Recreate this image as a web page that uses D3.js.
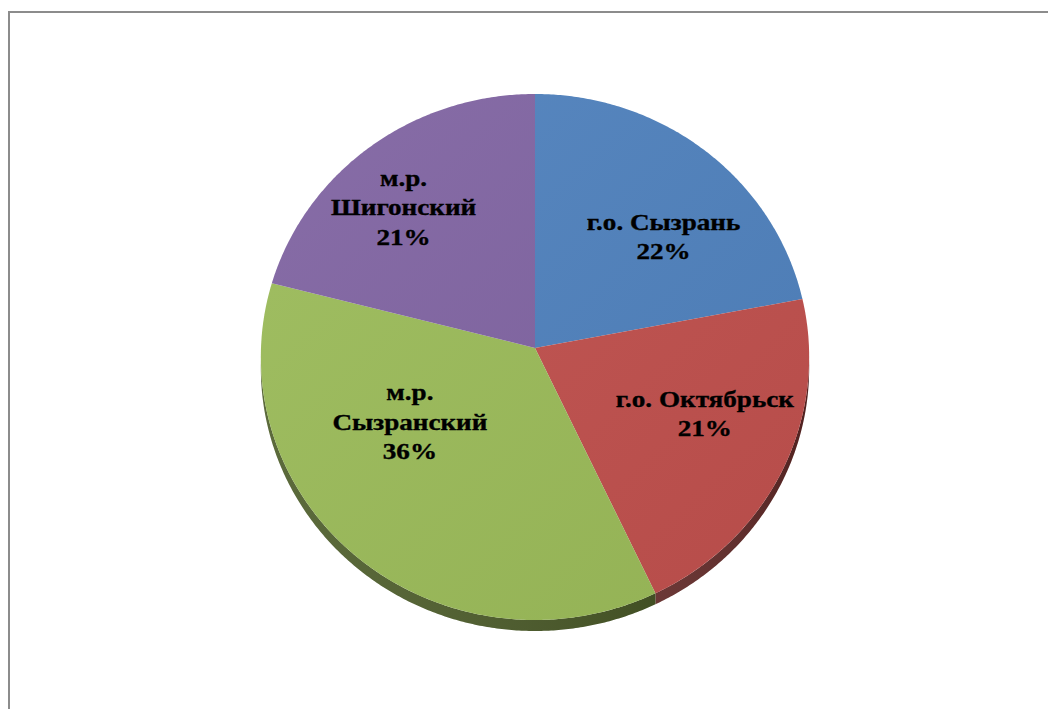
<!DOCTYPE html>
<html>
<head>
<meta charset="utf-8">
<script src="https://cdn.jsdelivr.net/npm/d3@7"></script>
<style>
  html, body { margin: 0; padding: 0; background: #fff; overflow: hidden; }
  svg { display: block; }
</style>
</head>
<body>
<div id="chart"></div>
<script>
// data
var categories = ["г.о. Сызрань", "г.о. Октябрьск", "м.р. Сызранский", "м.р. Шигонский"];
var shares = [22, 21, 36, 21];
var topColors = ["#4f81bd", "#c0504d", "#9bbb59", "#8064a2"];
var sideColors = ["#2c4a6e", "#5e2624", "#4d5d2a", "#45365a"];

var width = 1048, height = 709;

// tilted disc seen in perspective
var cx = 535, cy = 348, rx = 274, ry = 262.7, persp = 0.0342, depth = 11;
// labels sit a bit off the plain centroid, like the original's fitted boxes
var labelRadius = 0.62;
var labelNudge = [[22, 12], [17, -9], [-15, -54], [-29, -14]];
var fontSize = 23, stretch = 1.18, lineHeight = 29.5, wrapWidth = 190;

function project(a, r) {
  var u = r * Math.sin(a), v = r * Math.cos(a);
  var k = 1 + persp * v;
  return [cx + rx * u / k, cy - ry * v / k];
}

function arcPoints(a0, a1, r) {
  var n = Math.max(2, Math.ceil(Math.abs(a1 - a0) / (Math.PI / 360)));
  return d3.range(n + 1).map(function(i) { return project(a0 + (a1 - a0) * i / n, r); });
}

var svg = d3.select("#chart").append("svg")
  .attr("width", width)
  .attr("height", height);

var defs = svg.append("defs");
var shade = defs.append("linearGradient")
  .attr("id", "topShade")
  .attr("x1", 0).attr("y1", 0).attr("x2", 1).attr("y2", 1);
shade.append("stop").attr("offset", "0%").attr("stop-color", "#fff").attr("stop-opacity", 0.06);
shade.append("stop").attr("offset", "100%").attr("stop-color", "#000").attr("stop-opacity", 0.05);

var sideShade = defs.append("linearGradient")
  .attr("id", "sideShade")
  .attr("x1", 0).attr("y1", 0).attr("x2", 1).attr("y2", 0);
sideShade.append("stop").attr("offset", "0%").attr("stop-color", "#fff").attr("stop-opacity", 0.08);
sideShade.append("stop").attr("offset", "100%").attr("stop-color", "#000").attr("stop-opacity", 0.15);

// chart area frame, runs off the right and bottom of the page
svg.append("rect")
  .attr("x", 9)
  .attr("y", 12)
  .attr("width", 1200)
  .attr("height", 900)
  .attr("fill", "none")
  .attr("stroke", "#8c8c8c")
  .attr("stroke-width", 2);

var pie = d3.pie().sort(null).value(function(d) { return d; });
var slices = pie(shares);
var line = d3.line();

// the front of the disc: between the two widest points
var frontStart = Math.acos(-persp), frontEnd = 2 * Math.PI - Math.acos(-persp);

var sides = svg.append("g");
slices.forEach(function(s, i) {
  var a0 = Math.max(s.startAngle, frontStart), a1 = Math.min(s.endAngle, frontEnd);
  if (a1 <= a0) return;
  var upper = arcPoints(a0, a1, 1);
  var lower = upper.map(function(p) { return [p[0], p[1] + depth]; }).reverse();
  var pts = upper.concat(lower);
  sides.append("path")
    .attr("d", line(pts) + "Z")
    .attr("fill", sideColors[i]);
  sides.append("path")
    .attr("d", line(pts) + "Z")
    .attr("fill", "url(#sideShade)");
});

var tops = svg.append("g");
slices.forEach(function(s, i) {
  var pts = [[cx, cy]].concat(arcPoints(s.startAngle, s.endAngle, 1));
  tops.append("path")
    .attr("d", line(pts) + "Z")
    .attr("fill", topColors[i]);
});
tops.append("path")
  .attr("d", line(arcPoints(0, 2 * Math.PI, 1)) + "Z")
  .attr("fill", "url(#topShade)");

// labels
var labels = svg.append("g")
  .attr("font-family", "'Liberation Serif', 'Times New Roman', serif")
  .attr("font-weight", "bold")
  .attr("font-size", fontSize)
  .attr("fill", "#000")
  .attr("stroke", "#000")
  .attr("stroke-width", 0.35)
  .attr("text-anchor", "middle");

function wrapLines(text) {
  var probe = labels.append("text").text(text);
  var w = probe.node().getComputedTextLength() * stretch;
  probe.remove();
  if (w <= wrapWidth) return [text];
  var cut = text.indexOf(" ");
  return [text.slice(0, cut), text.slice(cut + 1)];
}

slices.forEach(function(s, i) {
  var mid = (s.startAngle + s.endAngle) / 2;
  var p = project(mid, labelRadius);
  var x = p[0] + labelNudge[i][0], y = p[1] + labelNudge[i][1];
  var lines = wrapLines(categories[i]).concat([shares[i] + "%"]);
  var first = -(lines.length - 1) * lineHeight / 2 + fontSize * 0.35;
  var t = labels.append("text")
    .attr("transform", "translate(" + x + "," + y + ") scale(" + stretch + ",1)");
  lines.forEach(function(l, j) {
    t.append("tspan")
      .attr("x", 0)
      .attr("y", first + j * lineHeight)
      .text(l);
  });
});
</script>
</body>
</html>
